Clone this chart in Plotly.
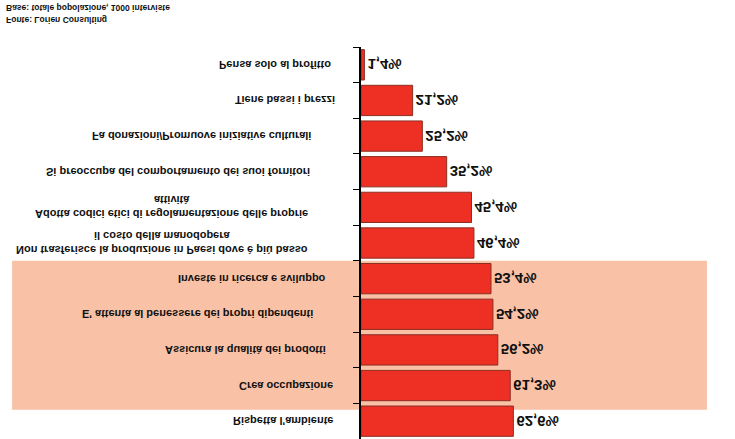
import plotly.graph_objects as go

# Data (bottom-to-top order in the upright chart)
categories = [
    "Pensa solo al profitto",
    "Tiene bassi i prezzi",
    "Fa donazioni/Promuove iniziative culturali",
    "Si preoccupa del comportamento dei suoi fornitori",
    "Adotta codici etici di regolamentazione delle proprie<br>attività",
    "Non trasferisce la produzione in Paesi dove è più basso<br>il costo della manodopera",
    "Investe in ricerca e sviluppo",
    "E' attenta al benessere dei propri dipendenti",
    "Assicura la qualità dei prodotti",
    "Crea occupazione",
    "Rispetta l'ambiente",
]
values = [1.4, 21.2, 25.2, 35.2, 45.4, 46.4, 53.4, 54.2, 56.2, 61.3, 62.6]
highlighted = ["Investe in ricerca e sviluppo",
               "E' attenta al benessere dei propri dipendenti",
               "Assicura la qualità dei prodotti",
               "Crea occupazione"]
source_note = "Fonte: Lorien Consulting"
base_note = "Base: totale popolazione, 1000 interviste"

# Styles
label_gap = [28, 24, 48, 49, 51, 51, 33, 46, 33, 26, 26]
BAR_COLOR = "#EE3024"
BAR_LINE = "#8B2E22"
BAND_COLOR = "#F9C1A6"
FONT = "Liberation Sans"

value_text = [f"{v:.1f}%".replace(".", ",") for v in values]

fig = go.Figure(go.Bar(
    x=values, y=categories, orientation="h",
    marker=dict(color=BAR_COLOR, line=dict(color=BAR_LINE, width=1)),
    text=value_text, textposition="outside", cliponaxis=False,
    textfont=dict(family=FONT, size=15, color="#111111", weight="bold"),
    hoverinfo="skip",
))

n = len(categories)
idx = [categories.index(c) for c in highlighted]
lo, hi = min(idx) - 0.5, max(idx) + 0.5 + 0.18
fig.add_shape(type="rect", xref="paper", yref="paper",
              x0=-0.943, x1=0.935,
              y0=(lo + 0.5) / n, y1=(hi + 0.5) / n,
              fillcolor=BAND_COLOR, line_width=0, layer="below")

for i, c in enumerate(categories):
    fig.add_annotation(x=0, xref="paper", y=c, yref="y", text=c,
                       xanchor="right", xshift=-label_gap[i], align="center",
                       showarrow=False,
                       font=dict(family=FONT, size=11, color="#111111", weight="bold"))

for txt, py in [(source_note, -0.069), (base_note, -0.1)]:
    fig.add_annotation(x=-0.965, xref="paper", y=py, yref="paper", text=txt,
                       xanchor="left", yanchor="middle", showarrow=False,
                       font=dict(family=FONT, size=8.5, color="#111111", weight="bold"))

fig.update_layout(
    width=735, height=439,
    margin=dict(l=361, r=4, t=0, b=47),
    paper_bgcolor="white", plot_bgcolor="rgba(0,0,0,0)",
    bargap=0.15, showlegend=False,
    xaxis=dict(range=[0, 152], visible=False),
    yaxis=dict(range=[-0.5, n - 0.5], showline=True, linecolor="black", linewidth=2,
               ticks="outside", ticklen=6, tickcolor="black", tickwidth=1,
               tickson="boundaries", showticklabels=False, showgrid=False,
               zeroline=False),
)

fig.write_html("out.html", config={"displayModeBar": False},
               post_script="var d=document.getElementById('{plot_id}');"
                           "d.style.transform='scaleY(-1)';")
